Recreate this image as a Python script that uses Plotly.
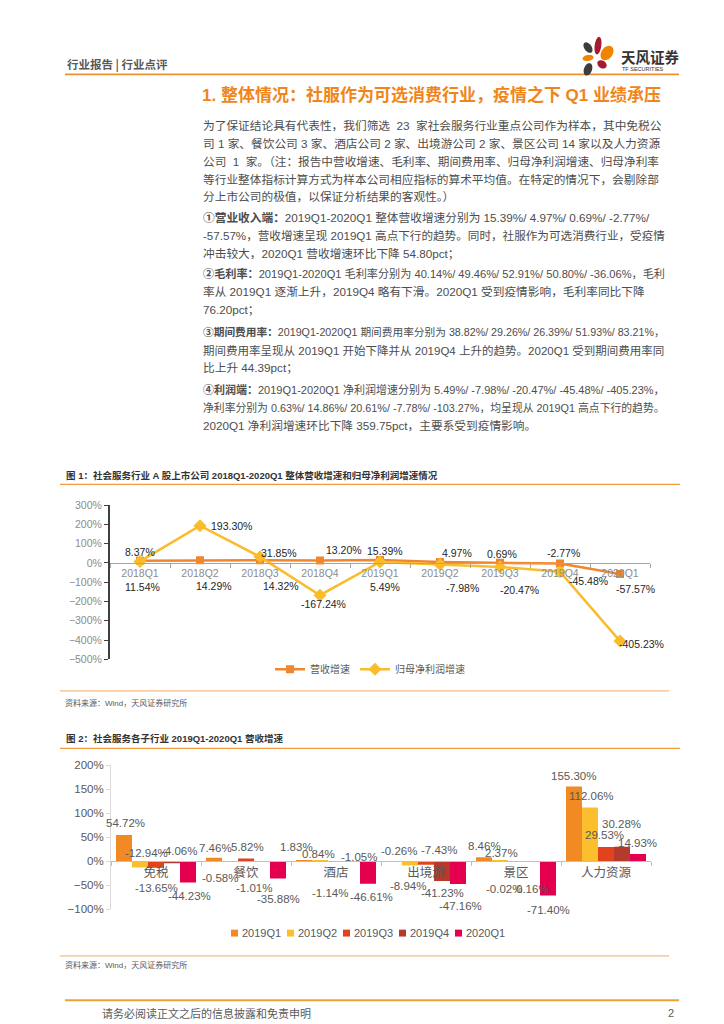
import re
import math
import plotly.graph_objects as go

# ---------------- data ----------------
quarters = ["2018Q1", "2018Q2", "2018Q3", "2018Q4", "2019Q1", "2019Q2", "2019Q3", "2019Q4", "2020Q1"]
revenue_growth = [11.54, 14.29, 14.32, 13.20, 15.39, 4.97, 0.69, -2.77, -57.57]
profit_growth = [8.37, 193.30, 31.85, -167.24, 5.49, -7.98, -20.47, -45.48, -405.23]

sectors = ["免税", "餐饮", "酒店", "出境游", "景区", "人力资源"]
series_names = ["2019Q1", "2019Q2", "2019Q3", "2019Q4", "2020Q1"]
q1_2019 = [54.72, 7.46, 1.83, -0.26, 8.46, 155.30]
q2_2019 = [-12.94, -0.58, 0.84, -8.94, 2.37, 112.06]
q3_2019 = [-13.65, 5.82, -1.14, -7.43, -0.02, 29.53]
q4_2019 = [-4.06, -1.01, -1.05, -41.23, 0.16, 30.28]
q1_2020 = [-44.23, -35.88, -46.61, -47.16, -71.40, 14.93]
bar_series = [q1_2019, q2_2019, q3_2019, q4_2019, q1_2020]

# ---------------- styles ----------------
W, H = 724, 1024
CJK = "Noto Sans CJK SC"
MIX = "Liberation Sans, Noto Sans CJK SC"
ORANGE = "#F08519"
C_REV = "#F0862E"
C_PROF = "#FBBC2C"
BAR_COLORS = ["#F28A24", "#FBBF2D", "#E3421E", "#B53A2C", "#E5004F"]
TXT = "#4D4D4D"


def px(x):
    return x / W


def py(y):
    return 1 - y / H


# label offsets (pixels; dx right, dy down)
rev_off = [(2, 26), (14, 26), (21, 26), (24, -10), (5, -9), (17, -9), (2, -9), (3, -11), (15, 15)]
prof_off = [(0, -9), (31, 0), (19, -4), (3, 9), (5, 25), (22, 23), (19, 23), (28, 9), (21, 3)]
bar_off = [
    [(1, -12), (1, -10), (-8, -13), (5, -10), (0, -11), (-1, -11)],
    [(6, -15), (-10, 16), (-2, -7), (-2, 20), (1, -7), (1, -11)],
    [(0, 20), (1, -11), (-6, 31), (13, -15), (-12, 28), (-2, -12)],
    [(7, -12), (-8, 26), (7, -5), (0, 12), (0, 28), (-1, -23)],
    [(1, 13), (0, 20), (3, 13), (2, 22), (0, 14), (-1, -11)],
]
BAR_W = 16

fig = go.Figure()

fig.add_trace(go.Scatter(x=quarters, y=revenue_growth, name="营收增速", mode="lines+markers",
                         line=dict(color=C_REV, width=2.5),
                         marker=dict(symbol="square", size=8, color=C_REV),
                         xaxis="x", yaxis="y"))
fig.add_trace(go.Scatter(x=quarters, y=profit_growth, name="归母净利润增速", mode="lines+markers",
                         line=dict(color=C_PROF, width=2.5),
                         marker=dict(symbol="diamond", size=10, color=C_PROF),
                         xaxis="x", yaxis="y"))

for name, vals, col in zip(series_names, bar_series, BAR_COLORS):
    fig.add_trace(go.Bar(x=sectors, y=vals, name=name, marker=dict(color=col, line=dict(width=0)),
                         xaxis="x2", yaxis="y2", showlegend=False))

# ---------------- axes ----------------
y1_dom = [py(653), py(497)]
y1_rng = [-500, 300]
y2_dom = [py(906), py(760)]
y2_rng = [-100, 200]


def zero_pos(dom, rng):
    return dom[0] + (0 - rng[0]) / (rng[1] - rng[0]) * (dom[1] - dom[0])


fig.update_layout(
    width=W, height=H, margin=dict(l=0, r=0, t=0, b=0),
    paper_bgcolor="white", plot_bgcolor="white",
    font=dict(family=MIX, color=TXT),
    barmode="group", bargap=0.111, bargroupgap=0,
    xaxis=dict(domain=[px(102), px(642)], anchor="free", position=zero_pos(y1_dom, y1_rng),
               type="category", range=[-0.5, 8.5], showline=True, linecolor="#A6A6A6", linewidth=1,
               ticks="outside", tickson="boundaries", ticklen=4, tickcolor="#A6A6A6",
               tickfont=dict(size=10.5, color="#8C8C8C", family=MIX), showgrid=False, zeroline=False),
    yaxis=dict(domain=y1_dom, range=y1_rng, dtick=100, ticksuffix="%", anchor="x",
               showline=True, linecolor="#404040", linewidth=2, ticks="outside", ticklen=4,
               tickcolor="#404040", tickfont=dict(size=10.5, color="#8C8C8C", family=MIX),
               showgrid=False, zeroline=False),
    xaxis2=dict(domain=[px(103), px(643)], anchor="free", position=zero_pos(y2_dom, y2_rng),
                type="category", range=[-0.5, 5.5], showline=True, linecolor="#BFBFBF", linewidth=1,
                ticks="outside", tickson="boundaries", ticklen=4, tickcolor="#BFBFBF",
                tickfont=dict(size=12.5, color="#595959", family=CJK), showgrid=False, zeroline=False),
    yaxis2=dict(domain=y2_dom, range=y2_rng, dtick=50, ticksuffix="%", anchor="x2",
                showline=True, linecolor="#D9D9D9", linewidth=1, ticks="outside", ticklen=4,
                tickcolor="#D9D9D9", tickfont=dict(size=11.5, color="#595959", family=MIX),
                showgrid=False, zeroline=False),
    legend=dict(orientation="h", x=0.5, xanchor="center", y=py(663), yanchor="middle",
                font=dict(size=10, color="#595959", family=CJK), bgcolor="rgba(0,0,0,0)"),
)

ann = []

# chart 1 data labels
for q, v, (dx, dy) in zip(quarters, revenue_growth, rev_off):
    ann.append(dict(x=q, y=v, xref="x", yref="y", text=f"{v:.2f}%", showarrow=False,
                    xshift=dx, yshift=-dy, font=dict(size=10.5, color="#262626", family=MIX)))
for q, v, (dx, dy) in zip(quarters, profit_growth, prof_off):
    ann.append(dict(x=q, y=v, xref="x", yref="y", text=f"{v:.2f}%", showarrow=False,
                    xshift=dx, yshift=-dy, font=dict(size=10.5, color="#262626", family=MIX)))

# chart 2 data labels
for k, vals in enumerate(bar_series):
    for c, v in enumerate(vals):
        dx, dy = bar_off[k][c]
        ann.append(dict(x=sectors[c], y=v, xref="x2", yref="y2", text=f"{v:.2f}%", showarrow=False,
                        xshift=(k - 2) * BAR_W + dx, yshift=-dy,
                        font=dict(size=11.5, color="#595959", family=MIX)))


def ptext(x, y, text, size=11.7, color=TXT, anchor="left", bold=False, family=MIX):
    if bold:
        text = f"<b>{text}</b>"
    ann.append(dict(x=px(x), y=py(y), xref="paper", yref="paper", text=text, showarrow=False,
                    xanchor=anchor, yanchor="middle", font=dict(size=size, color=color, family=family)))


# approximate advance widths (em): Latin in Liberation Sans, CJK full width
LAT_W = {".": 0.278, "/": 0.278, "-": 0.333, "%": 0.889, " ": 0.278, "\u00a0": 0.278, "Q": 0.778,
         "p": 0.556, "c": 0.5, "t": 0.278}


def est_em(text):
    plain = re.sub(r"<[^>]+>", "", text)
    total = 0.0
    for ch in plain:
        if ord(ch) < 128 and ch.isdigit():
            total += 0.556
        elif ch in LAT_W:
            total += LAT_W[ch]
        elif ord(ch) < 256:
            total += 0.556
        else:
            total += 1.0
    return total


NB = "\u00a0"
# header
ptext(57, 51, f"行业报告{NB}|{NB}行业点评", size=11.5, color="#595959", bold=True, family=CJK)
ptext(611, 43, "天风证券", size=14.5, color="#333333", bold=True, family=CJK)
ptext(612, 56, "TF SECURITIES", size=5.5, color="#333333")
ptext(192, 82, f"1.{NB}整体情况：社服作为可选消费行业，疫情之下{NB}Q1{NB}业绩承压", size=17, color=ORANGE, bold=True)

COL_W = 462
BODY_SIZE = 11.7
body = [
    (113, f"为了保证结论具有代表性，我们筛选{NB}{NB}23{NB}{NB}家社会服务行业重点公司作为样本，其中免税公"),
    (131, f"司{NB}1{NB}家、餐饮公司{NB}3{NB}家、酒店公司{NB}2{NB}家、出境游公司{NB}2{NB}家、景区公司{NB}14{NB}家以及人力资源"),
    (149, f"公司{NB}{NB}1{NB}{NB}家。（注：报告中营收增速、毛利率、期间费用率、归母净利润增速、归母净利率"),
    (167, "等行业整体指标计算方式为样本公司相应指标的算术平均值。在特定的情况下，会剔除部"),
    (185, "分上市公司的极值，以保证分析结果的客观性。）"),
    (206, f"<b>①营业收入端：</b>2019Q1-2020Q1{NB}整体营收增速分别为{NB}15.39%/{NB}4.97%/{NB}0.69%/{NB}-2.77%/"),
    (224, "-57.57%，营收增速呈现 2019Q1 高点下行的趋势。同时，社服作为可选消费行业，受疫情"),
    (242, "冲击较大，2020Q1 营收增速环比下降 54.80pct；"),
    (263, "<b>②毛利率：</b>2019Q1-2020Q1 毛利率分别为 40.14%/ 49.46%/ 52.91%/ 50.80%/ -36.06%，毛利"),
    (281, "率从 2019Q1 逐渐上升，2019Q4 略有下滑。2020Q1 受到疫情影响，毛利率同比下降"),
    (299, "76.20pct；"),
    (322, "<b>③期间费用率：</b>2019Q1-2020Q1 期间费用率分别为 38.82%/ 29.26%/ 26.39%/ 51.93%/ 83.21%，"),
    (340, "期间费用率呈现从 2019Q1 开始下降并从 2019Q4 上升的趋势。2020Q1 受到期间费用率同"),
    (358, "比上升 44.39pct；"),
    (380, "<b>④利润端：</b>2019Q1-2020Q1 净利润增速分别为 5.49%/ -7.98%/ -20.47%/ -45.48%/ -405.23%，"),
    (398, "净利率分别为 0.63%/ 14.86%/ 20.61%/ -7.78%/ -103.27%，均呈现从 2019Q1 高点下行的趋势。"),
    (416, "2020Q1 净利润增速环比下降 359.75pct，主要系受到疫情影响。"),
]
for y, t in body:
    size = min(BODY_SIZE, COL_W / est_em(t))
    ptext(193, y, t, size=round(size, 2))

# chart titles / sources / footer
ptext(56, 467, "图 1：社会服务行业 A 股上市公司 2018Q1-2020Q1 整体营收增速和归母净利润增速情况",
      size=9.5, color="#333333", bold=True)
ptext(55, 697, "资料来源：Wind，天风证券研究所", size=8, color="#595959")
ptext(56, 733, "图 2：社会服务各子行业 2019Q1-2020Q1 营收增速", size=9.5, color="#333333", bold=True)
ptext(55, 962, "资料来源：Wind，天风证券研究所", size=8, color="#595959")
ptext(92, 1011, "请务必阅读正文之后的信息披露和免责申明", size=11, color="#595959", family=CJK)
ptext(668, 1011, "2", size=11, color="#595959", anchor="right")

# chart 2 legend (compact, like the original)
LEG2_X = [223, 279, 335, 391, 447]
for lx, name in zip(LEG2_X, series_names):
    ptext(lx + 9, 930, name, size=11, color="#595959")

fig.update_layout(annotations=ann)

# ---------------- decorative shapes ----------------
shapes = []


def hline(x0, x1, y, color, width):
    shapes.append(dict(type="line", xref="paper", yref="paper", x0=px(x0), x1=px(x1), y0=py(y), y1=py(y),
                       line=dict(color=color, width=width)))


def box(x0, x1, y0, y1, color):
    shapes.append(dict(type="rect", xref="paper", yref="paper", x0=px(x0), x1=px(x1), y0=py(y1), y1=py(y0),
                       fillcolor=color, line=dict(width=0)))


def petal(cx, cy, rx, ry, angle_deg, color):
    """rotated ellipse (logo petal) as an SVG path in paper coordinates"""
    a = math.radians(angle_deg)
    pts = []
    for i in range(28):
        t = 2 * math.pi * i / 28
        ex, ey = rx * math.cos(t), ry * math.sin(t)
        x = cx + ex * math.cos(a) - ey * math.sin(a)
        y = cy + ex * math.sin(a) + ey * math.cos(a)
        pts.append(f"{px(x):.5f},{py(y):.5f}")
    path = "M " + " L ".join(pts) + " Z"
    shapes.append(dict(type="path", xref="paper", yref="paper", path=path,
                       fillcolor=color, line=dict(width=0)))


hline(57, 671, 61, "#F0912E", 1.8)
hline(52, 672, 476, "#F39A3D", 1.2)
hline(52, 661, 685, "#F9CDA6", 1.8)
hline(52, 672, 743, "#F39A3D", 1.2)
hline(52, 661, 953, "#F9CDA6", 1.8)
hline(57, 671, 998, "#F0A030", 2)

for lx, col in zip(LEG2_X, BAR_COLORS):
    box(lx, lx + 7, 926.5, 933.5, col)

# logo petals
petal(580, 34, 3.6, 6.0, -35, "#3D3D3D")
petal(590, 32, 3.3, 9.0, 8, "#A6192E")
petal(599, 39.5, 5.6, 8.0, 35, "#F08300")
petal(580, 44.5, 5.5, 3.0, -10, "#F08300")
petal(594, 51, 5.0, 3.8, 35, "#A6192E")
petal(580, 56, 4.0, 6.5, 20, "#3D3D3D")

fig.update_layout(shapes=shapes)

fig.write_html("out.html")
